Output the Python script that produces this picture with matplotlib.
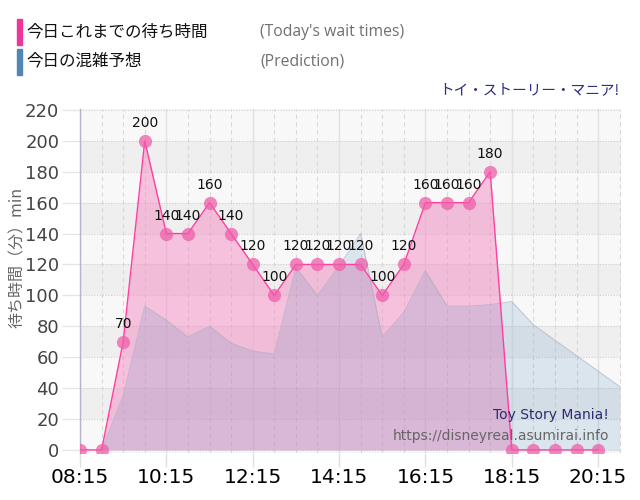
import numpy as np
import matplotlib
matplotlib.use("Agg")
import matplotlib.pyplot as plt

plt.rcParams['font.family'] = ['DejaVu Sans']

# ---- data ----
time_labels = ["08:15", "08:45", "09:15", "09:45", "10:15", "10:45", "11:15", "11:45",
               "12:15", "12:45", "13:15", "13:45", "14:15", "14:45", "15:15", "15:45",
               "16:15", "16:45", "17:15", "17:45", "18:15", "18:45", "19:15", "19:45",
               "20:15", "20:45"]
actual_wait = [0, 0, 70, 200, 140, 140, 160, 140, 120, 100, 120, 120, 120, 120,
               100, 120, 160, 160, 160, 180, 0, 0, 0, 0, 0]
prediction = [np.nan, 0, 35, 93, 84, 73, 80, 69, 64, 62, 118, 100, 119, 140,
              73, 89, 116, 93, 93, 94, 96, 81, 71, 61, 51, 41]
xtick_labels = ["08:15", "10:15", "12:15", "14:15", "16:15", "18:15", "20:15"]
yticks = [0, 20, 40, 60, 80, 100, 120, 140, 160, 180, 200, 220]


def to_hours(s):
    h, m = s.split(":")
    return int(h) + int(m) / 60.0


x_all = np.array([to_hours(t) for t in time_labels])
x_act = x_all[:len(actual_wait)]
y_act = np.array(actual_wait, dtype=float)
y_pred = np.array(prediction, dtype=float)

W, H = 640, 500
AX_L, AX_R, AX_T, AX_B = 80, 621, 109, 453

fig = plt.figure(figsize=(6.4, 5), dpi=100)
ax = fig.add_axes([AX_L / W, 1 - AX_B / H, (AX_R - AX_L) / W, (AX_B - AX_T) / H])
ax.set_xlim(x_all[0], x_all[-1] + 0.03)
ax.set_ylim(-2, 220.6)

# background bands
ax.set_facecolor('#f6f6f6')
for k in range(len(yticks) - 1):
    ax.axhspan(yticks[k], yticks[k + 1], color='#efefef' if k % 2 else '#f8f8f8',
               lw=0, zorder=0)

# grids
for t in x_all:
    ax.axvline(t, color='#d9d9d9', lw=0.8, ls=(0, (4, 3)), zorder=0.5)
for xl in xtick_labels:
    ax.axvline(to_hours(xl), color='#e2e2e2', lw=1.0, zorder=0.6)
for yv in yticks:
    ax.axhline(yv, color='#cfcfcf', lw=0.8, ls=(0, (1, 1.5)), zorder=0.6)

# actual wait fill (pink)
ax.fill_between(x_act, 0, y_act, color='#f38bc3', alpha=0.5, lw=0, zorder=1)
# prediction fill (blue) on top
m = ~np.isnan(y_pred)
ax.fill_between(x_all[m], 0, y_pred[m], color='#5b8fbe', alpha=0.18, lw=0, zorder=2)
ax.plot(x_all[m], y_pred[m], color='#a8aec0', lw=0.8, alpha=0.6, zorder=2.1)

# actual line + dots
ax.plot(x_act, y_act, color='#ff3fa0', lw=1.0, zorder=3)
ax.plot(x_act, y_act, 'o', color='#ef5ea9', alpha=0.75, ms=9.5, mew=0, zorder=4)

for xv, yv in zip(x_act, actual_wait):
    if yv > 0:
        ax.annotate(str(yv), (xv, yv), xytext=(0, 13), textcoords='offset points',
                    ha='center', va='center', fontsize=10, color='#111111', zorder=5)

# axes styling
ax.set_xticks([to_hours(t) for t in xtick_labels])
ax.set_xticklabels(xtick_labels, fontsize=14.5, color='black')
ax.set_yticks(yticks)
ax.set_yticklabels([str(v) for v in yticks], fontsize=13, color='#444444')
ax.tick_params(axis='x', length=10, color='#e0e0e0', width=1, pad=1)
ax.tick_params(axis='y', length=13, color='#e6e6e6', width=1, pad=2)
for s in ['top', 'right', 'bottom']:
    ax.spines[s].set_visible(False)
ax.spines['left'].set_color('#b4b4cc')
ax.spines['left'].set_linewidth(1)

ax.set_ylabel('待ち時間（分）min', family=['Noto Sans CJK JP', 'DejaVu Sans'],
              fontsize=11.5, color='#666666')
ax.yaxis.set_label_coords((26 - AX_L) / (AX_R - AX_L), (AX_B - 257) / (AX_B - AX_T))

# watermark
fig.text(609 / W, 1 - 415 / H, 'Toy Story Mania!', fontsize=10, color='#2b2b6e',
         ha='right', va='center', zorder=6)
fig.text(609 / W, 1 - 436 / H, 'https://disneyreal.asumirai.info', fontsize=10,
         color='#666666', ha='right', va='center', zorder=6)

# legend (top-left)
cjk = ['Noto Sans CJK JP', 'DejaVu Sans']
fig.patches.append(plt.Rectangle((17 / W, 1 - 45 / H), 5 / W, 26 / H,
                                 transform=fig.transFigure, color='#f0359a'))
fig.patches.append(plt.Rectangle((17 / W, 1 - 75 / H), 5 / W, 26 / H,
                                 transform=fig.transFigure, color='#4f86b6'))
fig.text(26 / W, 1 - 32 / H, '今日これまでの待ち時間', family=cjk, fontsize=11.9,
         color='#111111', ha='left', va='center')
fig.text(26 / W, 1 - 61 / H, '今日の混雑予想', family=cjk, fontsize=11.9,
         color='#111111', ha='left', va='center')
fig.text(260 / W, 1 - 32 / H, "(Today's wait times)", family=['Open Sans'],
         fontsize=11.3, color='#707070', ha='left', va='center')
fig.text(260 / W, 1 - 61 / H, "(Prediction)", family=['Open Sans'],
         fontsize=11.3, color='#707070', ha='left', va='center')
fig.text(619 / W, 1 - 90 / H, 'トイ・ストーリー・マニア!', family=cjk, fontsize=10.5,
         color='#2b2b80', ha='right', va='center')

fig.savefig('out.png', dpi=100)
